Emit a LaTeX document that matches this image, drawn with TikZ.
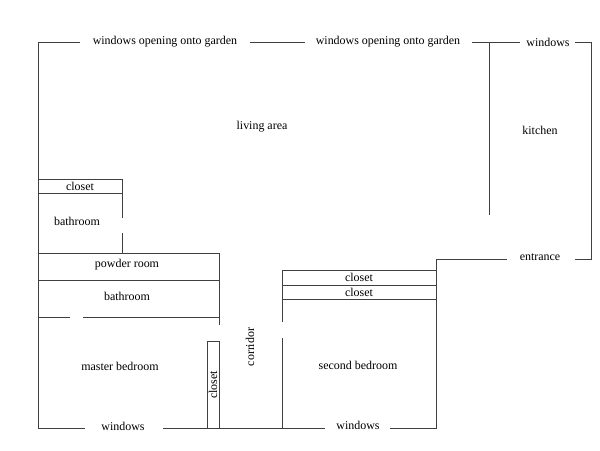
\documentclass[tikz,border=0pt]{standalone}
\usepackage{fontspec}
\setmainfont{Liberation Serif}
\begin{document}
\begin{tikzpicture}[x=0.025cm,y=-0.025cm,
    wall/.style={draw=black!75,line width=0.7pt},
    lbl/.style={font=\fontsize{8.5}{10}\selectfont,inner sep=1pt}]
    \useasboundingbox (0,0) rectangle (600,450);
    %%%%%%%%%% Outer walls %%%%%%%%%%
    \draw[wall] (80,42) -- (38,42) -- (38,428) -- (85,428);
    \draw[wall] (250,42) -- (305,42);
    \draw[wall] (472,42) -- (520,42);
    \draw[wall] (575,42) -- (591,42) -- (591,259) -- (575,259);
    \draw[wall] (507,259) -- (436,259) -- (436,428) -- (390,428);
    \draw[wall] (163,428) -- (325,428);
    \draw[wall] (489,42) -- (489,215);

    %%%%%%%%%% Left rooms %%%%%%%%%%
    \draw[wall] (38,179) rectangle (122,193);
    \draw[wall] (122,193) -- (122,218);
    \draw[wall] (122,233) -- (122,253);
    \draw[wall] (38,253) rectangle (219,280);
    \draw[wall] (38,317) -- (70,317);
    \draw[wall] (83,317) -- (219,317);
    \draw[wall] (219,280) -- (219,325);
    \draw[wall] (207,341) rectangle (219,428);

    %%%%%%%%%% Right rooms %%%%%%%%%%
    \draw[wall] (282,270) rectangle (436,285);
    \draw[wall] (282,285) rectangle (436,299);
    \draw[wall] (282,299) -- (282,322);
    \draw[wall] (282,338) -- (282,428);

    %%%%%%%%%% Labels %%%%%%%%%%
    \node[lbl] (garden1) at (165,42) {windows opening onto garden};
    \node[lbl] (garden2) at (388,42) {windows opening onto garden};
    \node[lbl] (kwin) at (548,42) {windows};
    \node[lbl] (living) at (262,127) {living area};
    \node[lbl] (kitchen) at (540,130) {kitchen};
    \node[lbl] (closetA) at (80,186) {closet};
    \node[lbl] (bathA) at (77,221) {bathroom};
    \node[lbl] (powder) at (127,265) {powder room};
    \node[lbl] (bathB) at (127,296) {bathroom};
    \node[lbl] (entrance) at (540,257) {entrance};
    \node[lbl] (closetB) at (359,277) {closet};
    \node[lbl] (closetC) at (359,292) {closet};
    \node[lbl,rotate=90] (corridor) at (250,347) {corridor};
    \node[lbl,rotate=90] (closetD) at (213,385) {closet};
    \node[lbl] (master) at (120,366) {master bedroom};
    \node[lbl] (second) at (358,365) {second bedroom};
    \node[lbl] (mwin) at (123,426) {windows};
    \node[lbl] (swin) at (358,425) {windows};
\end{tikzpicture}
\end{document}
